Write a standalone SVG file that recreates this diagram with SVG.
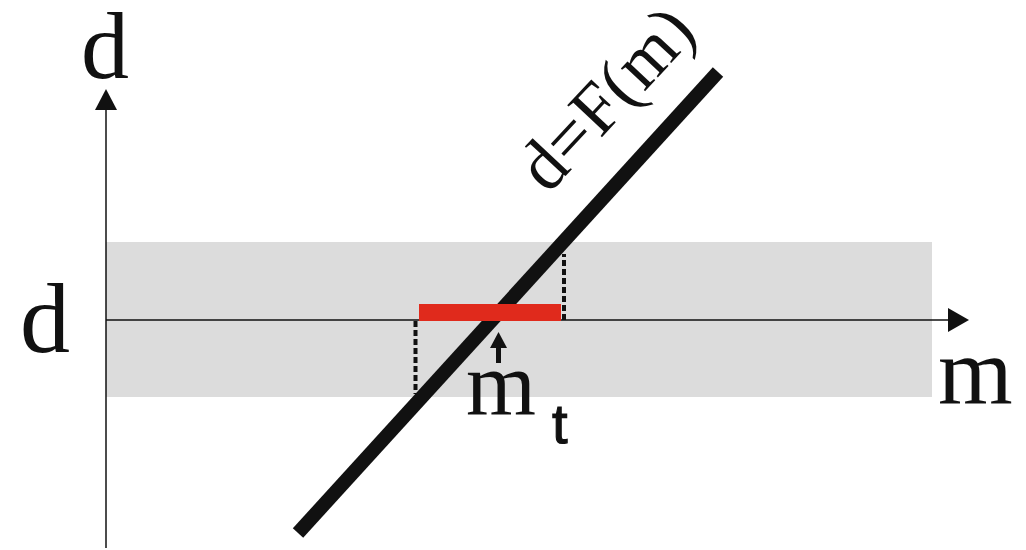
<svg xmlns="http://www.w3.org/2000/svg" width="1026" height="550" viewBox="0 0 1026 550">
<style>
.serif{font-family:"Liberation Serif","Times New Roman",serif;fill:#111}
.sans{font-family:"Liberation Sans",Arial,sans-serif;fill:#111}
.axis{stroke:#111;stroke-width:1.5;fill:none}
.dash{stroke:#111;stroke-width:4;stroke-dasharray:6 3;fill:none}
</style>
<rect id="band" x="106" y="242" width="826" height="155" fill="#dcdcdc"/>
<g id="connectors">
<line class="axis" x1="106" y1="548" x2="106" y2="110"/>
<path d="M95,110L106,89L117,110z" fill="#111"/>
<line class="axis" x1="106" y1="320" x2="950" y2="320"/>
<path d="M948,308L969,320L948,332z" fill="#111"/>
<line class="dash" x1="415.5" y1="321" x2="415.5" y2="394"/>
<line class="dash" x1="564" y1="320" x2="564" y2="254"/>
<line x1="298" y1="533" x2="718" y2="72" stroke="#111" stroke-width="14"/>
<rect x="419" y="304" width="142" height="17" fill="#e02a1c"/>
<line x1="498.5" y1="363" x2="498.5" y2="346" stroke="#111" stroke-width="5"/>
<path d="M490,348L498.5,332L507,348z" fill="#111"/>
</g>
<g id="labels">
<text class="serif" x="81" y="78" font-size="96">d</text>
<text class="serif" x="20" y="352" font-size="100">d</text>
<text class="serif" x="938" y="403" font-size="96">m</text>
<text class="serif" x="466" y="415" font-size="90">m</text>
<text class="sans" x="552" y="443" font-size="56" stroke="#111" stroke-width="1.2">t</text>
<text class="serif" x="0" y="0" font-size="72" transform="translate(548,195) rotate(-47)">d=F(m)</text>
</g>
</svg>
